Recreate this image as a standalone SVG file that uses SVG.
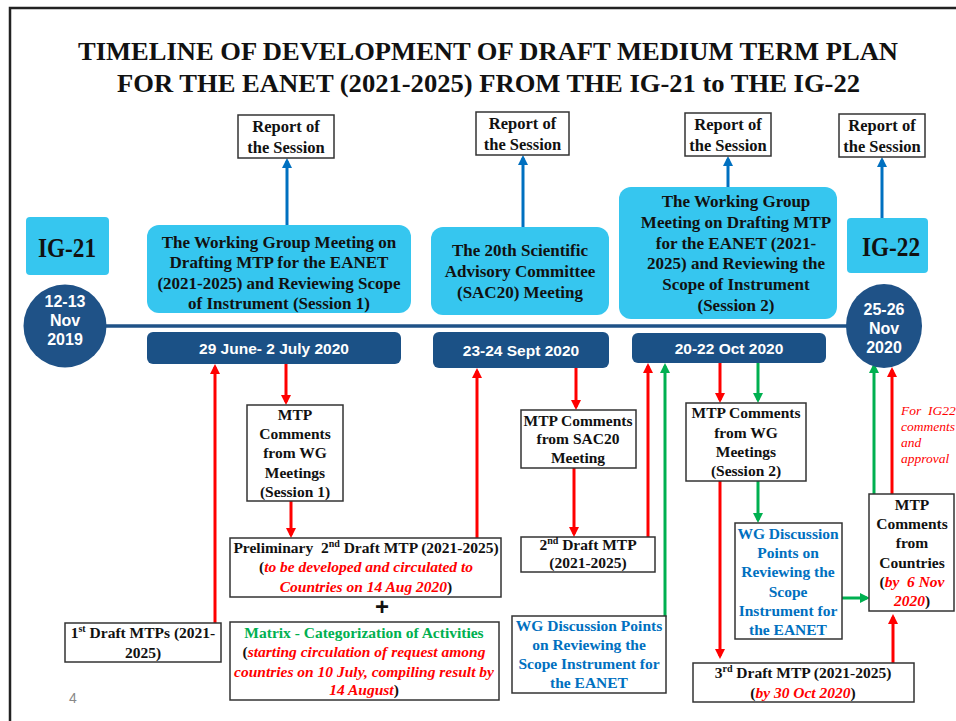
<svg xmlns="http://www.w3.org/2000/svg" width="956" height="721" viewBox="0 0 956 721">
<style>
.s{font-family:"Liberation Serif","Times New Roman",serif;font-weight:bold;fill:#111;text-anchor:middle}
.m{font-size:15.5px}
.a{font-family:"Liberation Sans",Arial,sans-serif;font-weight:bold;fill:#fff;text-anchor:middle;font-size:16px}
.box{fill:#fff;stroke:#333;stroke-width:1.5}
.lb{fill:#36C6EF}
.db{fill:#1B5186}
.ri{fill:#FF0000;font-style:italic}
.bl{fill:#0070C0}
.gr{fill:#00B050}
.cr{stroke:#FF0000;stroke-width:3;fill:none;marker-end:url(#ar)}
.cg{stroke:#00B050;stroke-width:3;fill:none;marker-end:url(#ag)}
.cb{stroke:#0070C0;stroke-width:3;fill:none;marker-end:url(#ab)}
</style>
<defs>
<marker id="ar" markerUnits="userSpaceOnUse" markerWidth="10" markerHeight="10" refX="7" refY="5" orient="auto"><path d="M0,0 L10,5 L0,10 z" fill="#FF0000"/></marker>
<marker id="ag" markerUnits="userSpaceOnUse" markerWidth="10" markerHeight="10" refX="7" refY="5" orient="auto"><path d="M0,0 L10,5 L0,10 z" fill="#00B050"/></marker>
<marker id="ab" markerUnits="userSpaceOnUse" markerWidth="10" markerHeight="10" refX="7" refY="5" orient="auto"><path d="M0,0 L10,5 L0,10 z" fill="#0070C0"/></marker>
</defs>
<rect width="956" height="721" fill="#fff"/>
<path d="M10,721 V8 H956" fill="none" stroke="#222" stroke-width="2.5"/>
<g id="title" class="s" style="font-size:26px">
<text x="488" y="60" textLength="820" lengthAdjust="spacingAndGlyphs">TIMELINE OF DEVELOPMENT OF DRAFT MEDIUM TERM PLAN</text>
<text x="488.5" y="92" textLength="743" lengthAdjust="spacingAndGlyphs">FOR THE EANET (2021-2025) FROM THE IG-21 to THE IG-22</text>
</g>
<g id="timeline"><line x1="100" y1="326" x2="850" y2="326" stroke="#1F5287" stroke-width="3.5"/></g>
<g id="connectors">
<line class="cb" x1="287" y1="226" x2="287" y2="161"/>
<line class="cb" x1="523" y1="228" x2="523" y2="158"/>
<line class="cb" x1="728" y1="187" x2="728" y2="159"/>
<line class="cb" x1="882" y1="219" x2="882" y2="160"/>
<line class="cr" x1="215" y1="623" x2="215" y2="367"/>
<line class="cr" x1="286" y1="364" x2="286" y2="402"/>
<line class="cr" x1="291" y1="501" x2="291" y2="535"/>
<line class="cr" x1="477" y1="538" x2="477" y2="371"/>
<line class="cr" x1="576" y1="368" x2="576" y2="407"/>
<line class="cr" x1="574" y1="468" x2="574" y2="534"/>
<line class="cr" x1="648" y1="537" x2="648" y2="366"/>
<line class="cr" x1="720" y1="363" x2="720" y2="400"/>
<line class="cr" x1="720" y1="481" x2="720" y2="656"/>
<line class="cr" x1="892" y1="494" x2="892" y2="370"/>
<line class="cr" x1="893" y1="663" x2="893" y2="617"/>
<line class="cg" x1="665" y1="617" x2="665" y2="366"/>
<line class="cg" x1="758" y1="363" x2="758" y2="400"/>
<line class="cg" x1="758" y1="481" x2="758" y2="520"/>
<line class="cg" x1="842" y1="598" x2="867" y2="598"/>
<line class="cg" x1="874" y1="494" x2="874" y2="366"/>
</g>
<g id="report1"><rect class="box" x="238" y="115" width="96" height="43"/><text class="s" style="font-size:16.5px"><tspan x="286" y="132">Report of</tspan><tspan x="286" y="153">the Session</tspan></text></g>
<g id="report2"><rect class="box" x="476" y="112" width="93" height="43"/><text class="s" style="font-size:16.5px"><tspan x="522.5" y="129">Report of</tspan><tspan x="522.5" y="150">the Session</tspan></text></g>
<g id="report3"><rect class="box" x="685" y="113" width="86" height="43"/><text class="s" style="font-size:16.5px"><tspan x="728" y="130">Report of</tspan><tspan x="728" y="151">the Session</tspan></text></g>
<g id="report4"><rect class="box" x="839" y="114" width="86" height="43"/><text class="s" style="font-size:16.5px"><tspan x="882" y="131">Report of</tspan><tspan x="882" y="152">the Session</tspan></text></g>
<g id="ig21"><rect class="lb" x="26" y="217" width="83" height="58" rx="4"/><text class="s" x="67" y="257" style="font-size:27px" textLength="58" lengthAdjust="spacingAndGlyphs">IG-21</text></g>
<g id="ig22"><rect class="lb" x="847" y="218" width="81" height="55" rx="4"/><text class="s" x="891" y="256" style="font-size:27px" textLength="58" lengthAdjust="spacingAndGlyphs">IG-22</text></g>
<g id="wg1"><rect class="lb" x="147" y="225" width="264" height="88" rx="12"/><text class="s" style="font-size:17px"><tspan x="279" y="248">The Working Group Meeting on</tspan><tspan x="279" y="268">Drafting MTP for the EANET</tspan><tspan x="279" y="289">(2021-2025) and Reviewing Scope</tspan><tspan x="279" y="309">of Instrument (Session 1)</tspan></text></g>
<g id="sac20"><rect class="lb" x="431" y="227" width="178" height="88" rx="12"/><text class="s" style="font-size:17px"><tspan x="520" y="256">The 20th Scientific</tspan><tspan x="520" y="277">Advisory Committee</tspan><tspan x="520" y="298">(SAC20) Meeting</tspan></text></g>
<g id="wg2"><rect class="lb" x="619" y="187" width="218" height="132" rx="12"/><text class="s" style="font-size:17px"><tspan x="736" y="207">The Working Group</tspan><tspan x="736" y="228">Meeting on Drafting MTP</tspan><tspan x="736" y="249">for the EANET (2021-</tspan><tspan x="736" y="269">2025) and Reviewing the</tspan><tspan x="736" y="290">Scope of Instrument</tspan><tspan x="736" y="311">(Session 2)</tspan></text></g>
<g id="ig21date"><circle cx="65" cy="326" r="41.5" fill="#1F5287"/><text class="a"><tspan x="65" y="307">12-13</tspan><tspan x="65" y="326">Nov</tspan><tspan x="65" y="345">2019</tspan></text></g>
<g id="ig22date"><ellipse cx="884" cy="326" rx="38" ry="42" fill="#1F5287"/><text class="a"><tspan x="884" y="315">25-26</tspan><tspan x="884" y="334">Nov</tspan><tspan x="884" y="353">2020</tspan></text></g>
<g id="date1"><rect class="db" x="147" y="332" width="254" height="32" rx="6"/><text class="a" x="274" y="354" style="font-size:15.5px">29 June- 2 July 2020</text></g>
<g id="date2"><rect class="db" x="433" y="332" width="176" height="36" rx="6"/><text class="a" x="521" y="356" style="font-size:15.5px">23-24 Sept 2020</text></g>
<g id="date3"><rect class="db" x="632" y="333" width="194" height="30" rx="6"/><text class="a" x="729" y="354" style="font-size:15.5px">20-22 Oct 2020</text></g>
<g id="mtp1"><rect class="box" x="247" y="405" width="96" height="96"/><text class="s m"><tspan x="295" y="420">MTP</tspan><tspan x="295" y="439">Comments</tspan><tspan x="295" y="458">from WG</tspan><tspan x="295" y="478">Meetings</tspan><tspan x="295" y="497">(Session 1)</tspan></text></g>
<g id="prelim"><rect class="box" x="230" y="538" width="271" height="59"/><text class="s m"><tspan x="366" y="553">Preliminary&#160; 2<tspan font-size="10" dy="-6">nd</tspan><tspan dy="6"> Draft MTP (2021-2025)</tspan></tspan><tspan x="366" y="572">(<tspan class="ri">to be developed and circulated to</tspan></tspan><tspan x="366" y="592"><tspan class="ri">Countries on 14 Aug 2020</tspan>)</tspan></text></g>
<text id="plus" x="382" y="615" style="font-family:'Liberation Sans',Arial,sans-serif;font-weight:bold;font-size:24px;text-anchor:middle" fill="#111">+</text>
<g id="draft1"><rect class="box" x="65" y="623" width="156" height="39"/><text class="s m"><tspan x="143" y="638">1<tspan font-size="10" dy="-6">st</tspan><tspan dy="6"> Draft MTPs (2021-</tspan></tspan><tspan x="143" y="658">2025)</tspan></text></g>
<g id="matrix"><rect class="box" x="230" y="622" width="269" height="78"/><text class="s m"><tspan x="364" y="638" class="gr">Matrix - Categorization of Activities</tspan><tspan x="364" y="657">(<tspan class="ri">starting circulation of request among</tspan></tspan><tspan x="364" y="677" class="ri">countries on 10 July, compiling result by</tspan><tspan x="364" y="695"><tspan class="ri">14 August</tspan>)</tspan></text></g>
<g id="sacmtp"><rect class="box" x="521" y="410" width="115" height="58"/><text class="s m"><tspan x="578" y="426">MTP Comments</tspan><tspan x="578" y="444">from SAC20</tspan><tspan x="578" y="463">Meeting</tspan></text></g>
<g id="draft2"><rect class="box" x="521" y="537" width="134" height="35"/><text class="s m"><tspan x="588" y="550">2<tspan font-size="10" dy="-6">nd</tspan><tspan dy="6"> Draft MTP</tspan></tspan><tspan x="588" y="568">(2021-2025)</tspan></text></g>
<g id="wgdp1"><rect class="box" x="512" y="616" width="154" height="77"/><text class="s m bl"><tspan x="589" y="631">WG Discussion Points</tspan><tspan x="589" y="650">on Reviewing the</tspan><tspan x="589" y="669">Scope Instrument for</tspan><tspan x="589" y="688">the EANET</tspan></text></g>
<g id="mtp2"><rect class="box" x="686" y="403" width="120" height="78"/><text class="s m"><tspan x="746" y="418">MTP Comments</tspan><tspan x="746" y="438">from WG</tspan><tspan x="746" y="457">Meetings</tspan><tspan x="746" y="476">(Session 2)</tspan></text></g>
<g id="wgdp2"><rect class="box" x="735" y="523" width="107" height="116"/><text class="s m bl"><tspan x="788" y="539">WG Discussion</tspan><tspan x="788" y="558">Points on</tspan><tspan x="788" y="577">Reviewing the</tspan><tspan x="788" y="597">Scope</tspan><tspan x="788" y="616">Instrument for</tspan><tspan x="788" y="635">the EANET</tspan></text></g>
<g id="countries"><rect class="box" x="869" y="494" width="85" height="117"/><text class="s m"><tspan x="912" y="510">MTP</tspan><tspan x="912" y="529">Comments</tspan><tspan x="912" y="548">from</tspan><tspan x="912" y="568">Countries</tspan><tspan x="912" y="587">(<tspan class="ri">by&#160; 6 Nov</tspan></tspan><tspan x="912" y="606"><tspan class="ri">2020</tspan>)</tspan></text></g>
<g id="draft3"><rect class="box" x="693" y="663" width="221" height="39"/><text class="s m"><tspan x="803" y="678">3<tspan font-size="10" dy="-6">rd</tspan><tspan dy="6"> Draft MTP (2021-2025)</tspan></tspan><tspan x="803" y="698">(<tspan class="ri">by 30 Oct 2020</tspan>)</tspan></text></g>
<g id="note" style="font-family:'Liberation Serif','Times New Roman',serif;font-style:italic;font-size:13.5px" fill="#FF0000"><text x="901" y="415">For&#160; IG22</text><text x="901" y="431">comments</text><text x="901" y="447">and</text><text x="901" y="463">approval</text></g>
<text id="page" x="73" y="703" style="font-family:'Liberation Sans',Arial,sans-serif;font-size:14px;text-anchor:middle" fill="#888">4</text>
</svg>
